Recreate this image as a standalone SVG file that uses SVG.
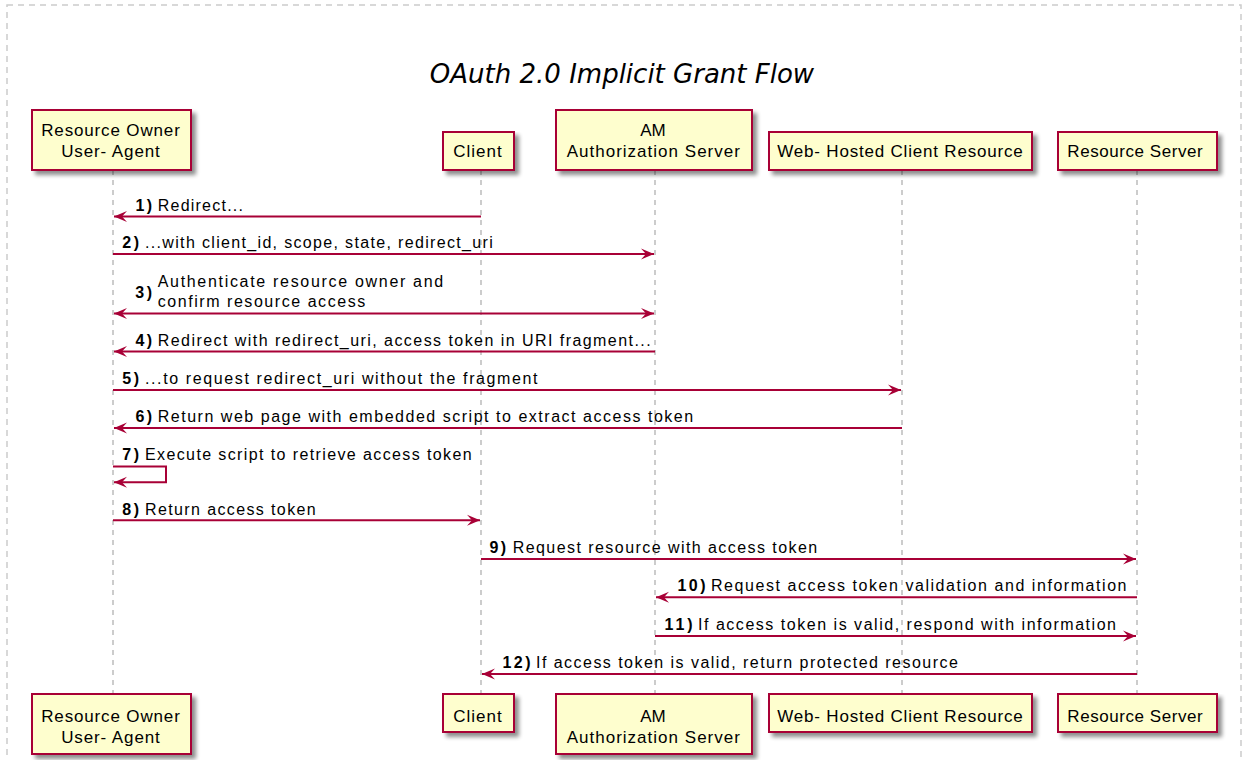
<svg xmlns="http://www.w3.org/2000/svg" width="1244" height="760" viewBox="0 0 1244 760">
<style>
.title{font-family:"DejaVu Sans",sans-serif;font-style:italic;font-size:26px;fill:#000}
.pbox{fill:#FEFECE;stroke:#A80036;stroke-width:2}
.ptxt{font-family:"Liberation Sans",Arial,sans-serif;font-size:17px;fill:#000;text-anchor:middle}
.life{stroke:#999;stroke-width:1;stroke-dasharray:5,5}
.msg{stroke:#A80036;stroke-width:2;fill:none}
.num{font-family:"Liberation Sans",Arial,sans-serif;font-size:16px;font-weight:bold;fill:#000}
.lbl{font-family:"Liberation Sans",Arial,sans-serif;font-size:16px;fill:#000}
</style>
<defs>
<filter id="sh" x="-10%" y="-10%" width="130%" height="140%">
<feGaussianBlur in="SourceAlpha" stdDeviation="2"/>
<feOffset dx="4" dy="4" result="b"/>
<feComponentTransfer><feFuncA type="linear" slope="0.45"/></feComponentTransfer>
<feMerge><feMergeNode/><feMergeNode in="SourceGraphic"/></feMerge>
</filter>
<marker id="ah" viewBox="0 0 14 12" refX="13" refY="6" markerWidth="14" markerHeight="12" markerUnits="userSpaceOnUse" orient="auto-start-reverse">
<path d="M13,6 L0,0.5 L5,6 L0,11.5 Z" fill="#A80036"/>
</marker>
</defs>
<rect x="7" y="5" width="1234" height="780" fill="none" stroke="#CCCCCC" stroke-width="1.5" stroke-dasharray="6,5"/>
<text class="title" x="622" y="83" text-anchor="middle">OAuth 2.0 Implicit Grant Flow</text>

<g id="lifelines">
<line class="life" x1="113" y1="170" x2="113" y2="694"/>
<line class="life" x1="481" y1="170" x2="481" y2="694"/>
<line class="life" x1="655" y1="170" x2="655" y2="694"/>
<line class="life" x1="902" y1="170" x2="902" y2="694"/>
<line class="life" x1="1137" y1="170" x2="1137" y2="694"/>
</g>

<g id="p-owner-top">
<rect class="pbox" x="32" y="110" width="159" height="60" filter="url(#sh)"/>
<text class="ptxt" x="110.5" y="136" textLength="138.6" lengthAdjust="spacing">Resource Owner</text>
<text class="ptxt" x="110.5" y="157" textLength="98.6" lengthAdjust="spacing">User- Agent</text>
</g>
<g id="p-client-top">
<rect class="pbox" x="443" y="132" width="71" height="38" filter="url(#sh)"/>
<text class="ptxt" x="477.5" y="156.7" textLength="48.4" lengthAdjust="spacing">Client</text>
</g>
<g id="p-am-top">
<rect class="pbox" x="556" y="110" width="196" height="60" filter="url(#sh)"/>
<text class="ptxt" x="653" y="136">AM</text>
<text class="ptxt" x="653.3" y="157" textLength="173.3" lengthAdjust="spacing">Authorization Server</text>
</g>
<g id="p-web-top">
<rect class="pbox" x="769" y="132" width="263" height="38" filter="url(#sh)"/>
<text class="ptxt" x="900" y="156.7" textLength="245.4" lengthAdjust="spacing">Web- Hosted Client Resource</text>
</g>
<g id="p-rs-top">
<rect class="pbox" x="1058" y="132" width="159" height="38" filter="url(#sh)"/>
<text class="ptxt" x="1135" y="156.7" textLength="135.4" lengthAdjust="spacing">Resource Server</text>
</g>

<g id="p-owner-bottom">
<rect class="pbox" x="32" y="694" width="159" height="60" filter="url(#sh)"/>
<text class="ptxt" x="110.5" y="721.7" textLength="138.6" lengthAdjust="spacing">Resource Owner</text>
<text class="ptxt" x="110.5" y="743" textLength="98.6" lengthAdjust="spacing">User- Agent</text>
</g>
<g id="p-client-bottom">
<rect class="pbox" x="443" y="694" width="71" height="38" filter="url(#sh)"/>
<text class="ptxt" x="477.5" y="721.7" textLength="48.4" lengthAdjust="spacing">Client</text>
</g>
<g id="p-am-bottom">
<rect class="pbox" x="556" y="694" width="196" height="60" filter="url(#sh)"/>
<text class="ptxt" x="653" y="721.7">AM</text>
<text class="ptxt" x="653.3" y="743" textLength="173.3" lengthAdjust="spacing">Authorization Server</text>
</g>
<g id="p-web-bottom">
<rect class="pbox" x="769" y="694" width="263" height="38" filter="url(#sh)"/>
<text class="ptxt" x="900" y="721.7" textLength="245.4" lengthAdjust="spacing">Web- Hosted Client Resource</text>
</g>
<g id="p-rs-bottom">
<rect class="pbox" x="1058" y="694" width="159" height="38" filter="url(#sh)"/>
<text class="ptxt" x="1135" y="721.7" textLength="135.4" lengthAdjust="spacing">Resource Server</text>
</g>

<g id="connectors">
<line class="msg" x1="481" y1="216.5" x2="114" y2="216.5" marker-end="url(#ah)"/>
<line class="msg" x1="113" y1="254" x2="654" y2="254" marker-end="url(#ah)"/>
<line class="msg" x1="114" y1="313.5" x2="654" y2="313.5" marker-start="url(#ah)" marker-end="url(#ah)"/>
<line class="msg" x1="655" y1="351.5" x2="114" y2="351.5" marker-end="url(#ah)"/>
<line class="msg" x1="113" y1="390" x2="901" y2="390" marker-end="url(#ah)"/>
<line class="msg" x1="902" y1="428" x2="114" y2="428" marker-end="url(#ah)"/>
<polyline class="msg" points="113,466.5 166,466.5 166,482.3 114,482.3" marker-end="url(#ah)"/>
<line class="msg" x1="113" y1="520.3" x2="480" y2="520.3" marker-end="url(#ah)"/>
<line class="msg" x1="481" y1="559" x2="1136" y2="559" marker-end="url(#ah)"/>
<line class="msg" x1="1137" y1="597.3" x2="656" y2="597.3" marker-end="url(#ah)"/>
<line class="msg" x1="655" y1="636" x2="1136" y2="636" marker-end="url(#ah)"/>
<line class="msg" x1="1137" y1="674" x2="482" y2="674" marker-end="url(#ah)"/>
</g>

<g id="labels">
<text class="num" x="135.5" y="210.7" textLength="16.7" lengthAdjust="spacing">1)</text>
<text class="lbl" x="157.7" y="210.7" textLength="85.3" lengthAdjust="spacing">Redirect...</text>
<text class="num" x="122.3" y="248" textLength="16.7" lengthAdjust="spacing">2)</text>
<text class="lbl" x="145" y="248" textLength="347.7" lengthAdjust="spacing">...with client_id, scope, state, redirect_uri</text>
<text class="num" x="135.3" y="298" textLength="16.7" lengthAdjust="spacing">3)</text>
<text class="lbl" x="157.7" y="286.7" textLength="285.5" lengthAdjust="spacing">Authenticate resource owner and</text>
<text class="lbl" x="157.7" y="306.7" textLength="207.5" lengthAdjust="spacing">confirm resource access</text>
<text class="num" x="135.5" y="346" textLength="16.7" lengthAdjust="spacing">4)</text>
<text class="lbl" x="157.7" y="346" textLength="493" lengthAdjust="spacing">Redirect with redirect_uri, access token in URI fragment...</text>
<text class="num" x="122.3" y="384" textLength="16.7" lengthAdjust="spacing">5)</text>
<text class="lbl" x="145" y="384" textLength="392.5" lengthAdjust="spacing">...to request redirect_uri without the fragment</text>
<text class="num" x="135.5" y="422" textLength="16.7" lengthAdjust="spacing">6)</text>
<text class="lbl" x="157.7" y="422" textLength="535.5" lengthAdjust="spacing">Return web page with embedded script to extract access token</text>
<text class="num" x="122.3" y="459.5" textLength="16.7" lengthAdjust="spacing">7)</text>
<text class="lbl" x="145" y="459.5" textLength="326.6" lengthAdjust="spacing">Execute script to retrieve access token</text>
<text class="num" x="122.3" y="514.5" textLength="16.7" lengthAdjust="spacing">8)</text>
<text class="lbl" x="145" y="514.5" textLength="170.7" lengthAdjust="spacing">Return access token</text>
<text class="num" x="489.5" y="553" textLength="16.7" lengthAdjust="spacing">9)</text>
<text class="lbl" x="512.7" y="553" textLength="304.5" lengthAdjust="spacing">Request resource with access token</text>
<text class="num" x="677.5" y="591.3" textLength="28" lengthAdjust="spacing">10)</text>
<text class="lbl" x="711" y="591.3" textLength="415.5" lengthAdjust="spacing">Request access token validation and information</text>
<text class="num" x="664.5" y="630" textLength="28" lengthAdjust="spacing">11)</text>
<text class="lbl" x="698" y="630" textLength="418" lengthAdjust="spacing">If access token is valid, respond with information</text>
<text class="num" x="502.5" y="668" textLength="28" lengthAdjust="spacing">12)</text>
<text class="lbl" x="536" y="668" textLength="421.8" lengthAdjust="spacing">If access token is valid, return protected resource</text>
</g>
</svg>
